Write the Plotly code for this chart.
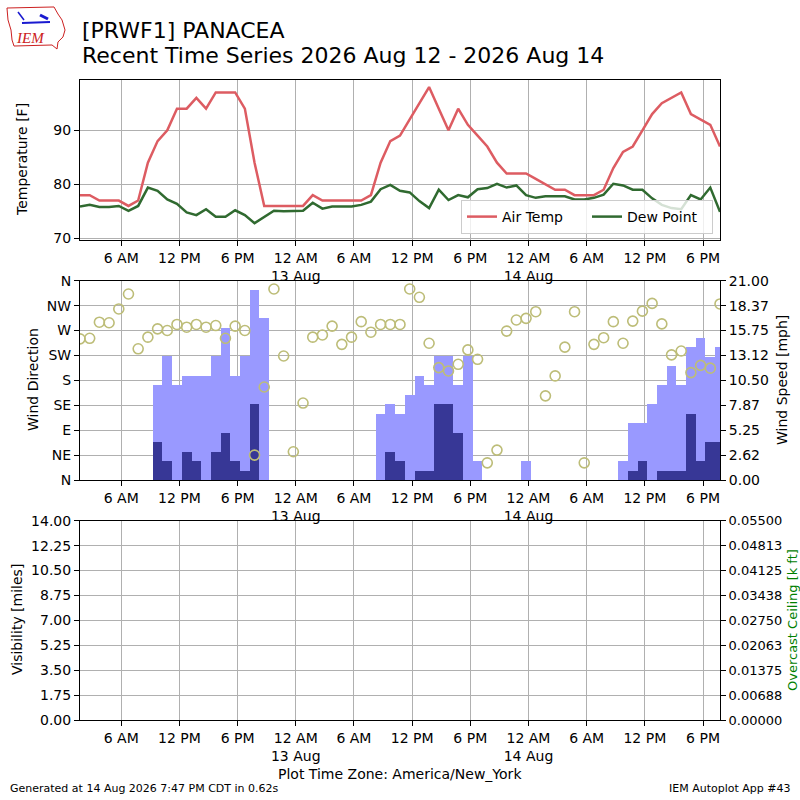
import pandas as pd
import plotly.graph_objects as go

# hourly obs, plot time zone America/New_York
times = pd.date_range("2026-08-12 01:45", periods=67, freq="h")

air_temp = [78, 78, 77, 77, 77, 76, 77, 84, 88, 90, 94, 94, 96, 94, 97, 97, 97, 94, 84, 76,
            76, 76, 76, 76, 78, 77, 77, 77, 77, 77, 78, 84, 88, 89, 92, 95, 98, 94, 90, 94,
            91, 89, 87, 84, 82, 82, 82, 81, 80, 79, 79, 78, 78, 78, 79, 83, 86, 87, 90, 93,
            95, 96, 97, 93, 92, 91, 87]
dew_point = [75.9, 76.2, 75.8, 75.8, 76.0, 75.1, 76.0, 79.4, 78.8, 77.2, 76.4, 74.8, 74.3, 75.4,
             74.0, 74.0, 75.2, 74.3, 72.8, 74.0, 75.1, 75.0, 75.1, 75.1, 76.6, 75.5, 75.9, 75.9,
             75.9, 76.2, 76.8, 79.1, 79.9, 78.8, 78.5, 76.9, 75.6, 79.0, 77.1, 78.0, 77.6, 79.1,
             79.3, 80.1, 79.4, 79.8, 78.0, 77.5, 77.8, 77.8, 77.8, 77.2, 77.2, 77.5, 78.1, 80.1,
             79.8, 79.0, 79.0, 77.4, 76.2, 75.6, 75.4, 78.0, 77.2, 79.4, 74.9]
wind_dir = [255, 256, 285, 284, 309, 336, 237, 258, 273, 270, 281, 276, 281, 276, 279, 256, 278,
            270, 45, 168, 345, 224, 51, 139, 258, 262, 278, 245, 258, 286, 267, 281, 281, 281,
            345, 330, 247, 203, 197, 209, 235, 218, 31, 54, 269, 289, 292, 304, 152, 188, 240,
            304, 31, 245, 257, 286, 247, 287, 305, 319, 282, 226, 233, 194, 207, 202, 318]
wind_speed = [0, 0, 0, 0, 0, 0, 0, 0, 4, 2, 0, 3, 2, 0, 3, 5, 2, 1, 8, 0,
              0, 0, 0, 0, 0, 0, 0, 0, 0, 0, 0, 0, 3, 2, 0, 1, 1, 8, 8, 5,
              0, 0, 0, 0, 0, 0, 0, 0, 0, 0, 0, 0, 0, 0, 0, 0, 0, 1, 2, 0,
              1, 1, 1, 7, 2, 4, 4]
wind_gust = [0, 0, 0, 0, 0, 0, 0, 0, 10, 13.1, 10, 11, 11, 11, 13.1, 16, 11, 13.1, 20, 17.1,
             0, 0, 0, 0, 0, 0, 0, 0, 0, 0, 0, 7, 8, 7, 9, 11, 10, 13.1, 13.1, 10,
             13.1, 2, 0, 0, 0, 0, 2, 0, 0, 0, 0, 0, 0, 0, 0, 0, 2, 6, 6, 8,
             10, 12, 10, 14, 15, 13, 14]
# station reports no visibility / ceiling
visibility = [None] * len(times)
ceiling = [None] * len(times)

dir_ticks = [0, 45, 90, 135, 180, 225, 270, 315, 360]
dir_labels = ["N", "NE", "E", "SE", "S", "SW", "W", "NW", "N"]
speed_ticks = [i * 21 / 8 for i in range(9)]
speed_labels = ["0.00", "2.62", "5.25", "7.87", "10.50", "13.12", "15.75", "18.37", "21.00"]
vis_ticks = [i * 1.75 for i in range(9)]
ceil_ticks = [i * 0.055 / 8 for i in range(9)]
ceil_labels = ["0.00000", "0.00688", "0.01375", "0.02063", "0.02750",
               "0.03438", "0.04125", "0.04813", "0.05500"]

tick_times = pd.date_range("2026-08-12 06:00", "2026-08-14 18:00", freq="6h")
tick_text = []
for t in tick_times:
    if t.hour == 0:
        tick_text.append("12 AM<br>%d Aug" % t.day)
    elif t.hour == 12:
        tick_text.append("12 PM")
    else:
        tick_text.append("%d %s" % (t.hour % 12, "AM" if t.hour < 12 else "PM"))


# pixel -> paper helpers (plot area is 80..720 both ways)
def px(x):
    return (x - 80) / 640.0


def py(y):
    return 1 - (y - 80) / 640.0


GRID = "#b0b0b0"
FONT = "DejaVu Sans"

fig = go.Figure()

# temperature panel
fig.add_trace(go.Scatter(x=times, y=air_temp, mode="lines", name="Air Temp",
                         line=dict(color="#dd5c62", width=2.5), xaxis="x", yaxis="y"))
fig.add_trace(go.Scatter(x=times, y=dew_point, mode="lines", name="Dew Point",
                         line=dict(color="#306a30", width=2.5), xaxis="x", yaxis="y"))

# wind panel: bars on base axis, direction on overlay so circles stay on top
fig.add_trace(go.Bar(x=times, y=wind_gust, width=3600 * 1000, marker=dict(color="#9999ff", line=dict(width=0)),
                     showlegend=False, xaxis="x2", yaxis="y2"))
fig.add_trace(go.Bar(x=times, y=wind_speed, width=3600 * 1000, marker=dict(color="#373796", line=dict(width=0)),
                     showlegend=False, xaxis="x2", yaxis="y2"))
fig.add_trace(go.Scatter(x=times, y=wind_dir, mode="markers", showlegend=False,
                         marker=dict(symbol="circle-open", size=10, color="#bdbd78", line=dict(width=1.6)),
                         xaxis="x2", yaxis="y3"))

# visibility / ceiling panel (empty)
fig.add_trace(go.Scatter(x=times, y=visibility, mode="lines", showlegend=False, xaxis="x3", yaxis="y4"))
fig.add_trace(go.Scatter(x=times, y=ceiling, mode="lines", showlegend=False, xaxis="x3", yaxis="y5"))

xcommon = dict(type="date", range=[times[0], times[-1]], tickvals=tick_times, ticktext=tick_text,
               showgrid=True, gridcolor=GRID, gridwidth=1, showline=True, linecolor="black",
               linewidth=1, mirror=True, ticks="outside", ticklen=5, tickcolor="black",
               tickfont=dict(size=14, color="black"), zeroline=False)
ycommon = dict(showline=True, linecolor="black", linewidth=1, ticks="outside", ticklen=5,
               tickcolor="black", tickfont=dict(size=14, color="black"), zeroline=False)

fig.update_layout(
    width=800, height=800, autosize=False,
    margin=dict(l=80, r=80, t=80, b=80),
    paper_bgcolor="white", plot_bgcolor="white",
    font=dict(family=FONT, size=14, color="black"),
    barmode="overlay", bargap=0,
    xaxis=dict(xcommon, domain=[0, 1], anchor="y"),
    xaxis2=dict(xcommon, domain=[0, 1], anchor="y2"),
    xaxis3=dict(xcommon, domain=[0, 1], anchor="y4"),
    yaxis=dict(ycommon, domain=[py(240), py(80)], range=[69.7, 99.3], tickvals=[70, 80, 90],
               showgrid=True, gridcolor=GRID, mirror=True, anchor="x"),
    yaxis2=dict(ycommon, domain=[py(480), py(280.7)], range=[0, 21], tickvals=speed_ticks,
                ticktext=speed_labels, side="right", anchor="x2", showgrid=True, gridcolor=GRID),
    yaxis3=dict(ycommon, range=[0, 360], tickvals=dir_ticks, ticktext=dir_labels, side="left",
                overlaying="y2", anchor="x2", showgrid=False),
    yaxis4=dict(ycommon, domain=[py(720), py(520.7)], range=[0, 14], tickvals=vis_ticks,
                tickformat=".2f", anchor="x3", showgrid=True, gridcolor=GRID),
    yaxis5=dict(ycommon, range=[0, 0.055], tickvals=ceil_ticks, ticktext=ceil_labels, side="right",
                overlaying="y4", anchor="x3", showgrid=False, tickfont=dict(size=13, color="black")),
    legend=dict(orientation="h", x=px(713), xanchor="right", y=py(234), yanchor="bottom",
                bgcolor="rgba(255,255,255,0.8)", bordercolor="#cccccc", borderwidth=1,
                font=dict(size=14), itemwidth=30, entrywidth=80, entrywidthmode="pixels"),
)

notes = [
    ("[PRWF1] PANACEA", 80, 30, "left", 22, 0, "black"),
    ("Recent Time Series 2026 Aug 12 - 2026 Aug 14", 80, 56, "left", 22, 0, "black"),
    ("Temperature [F]", 22, 160, "center", 14, -90, "black"),
    ("Wind Direction", 33, 380, "center", 14, -90, "black"),
    ("Wind Speed [mph]", 782, 380, "center", 14, -90, "black"),
    ("Visibility [miles]", 17, 620, "center", 14, -90, "black"),
    ("Overcast Ceiling [k ft]", 792, 620, "center", 13, -90, "green"),
    ("Plot Time Zone: America/New_York", 400, 774, "center", 14, 0, "black"),
    ("Generated at 14 Aug 2026 7:47 PM CDT in 0.62s", 8, 788, "left", 11, 0, "black"),
    ("IEM Autoplot App #43", 793, 788, "right", 11, 0, "black"),
]
for text, x, y, anchor, size, angle, color in notes:
    fig.add_annotation(text=text, xref="paper", yref="paper", x=px(x), y=py(y),
                       xanchor=anchor, yanchor="middle", showarrow=False, textangle=angle,
                       font=dict(size=size, color=color, family=FONT))

# rough IEM logo
fig.add_annotation(text="<i>IEM</i>", xref="paper", yref="paper", x=px(30), y=py(38),
                   xanchor="center", yanchor="middle", showarrow=False,
                   font=dict(size=15, color="#cc2020", family="Liberation Serif"))
outline = [(7, 8), (54, 7), (58, 14), (62, 20), (65, 30), (63, 37), (58, 42), (57, 49),
           (52, 45), (14, 46), (12, 40), (11, 30), (8, 20)]
path = "M " + " L ".join("%.4f,%.4f" % (px(a), py(b)) for a, b in outline) + " Z"
fig.add_shape(type="path", path=path, xref="paper", yref="paper", line=dict(color="#cc2020", width=1))
fig.add_shape(type="line", xref="paper", yref="paper", x0=px(22), y0=py(23), x1=px(50), y1=py(22),
              line=dict(color="#1a1ad0", width=2))
fig.add_shape(type="line", xref="paper", yref="paper", x0=px(18), y0=py(12), x1=px(24), y1=py(20),
              line=dict(color="#1a1ad0", width=1.5))
fig.add_shape(type="line", xref="paper", yref="paper", x0=px(40), y0=py(15), x1=px(48), y1=py(19),
              line=dict(color="#1a1ad0", width=3))

fig.write_html("out.html", config=dict(displayModeBar=False),
               post_script="document.body.style.margin='0';")
